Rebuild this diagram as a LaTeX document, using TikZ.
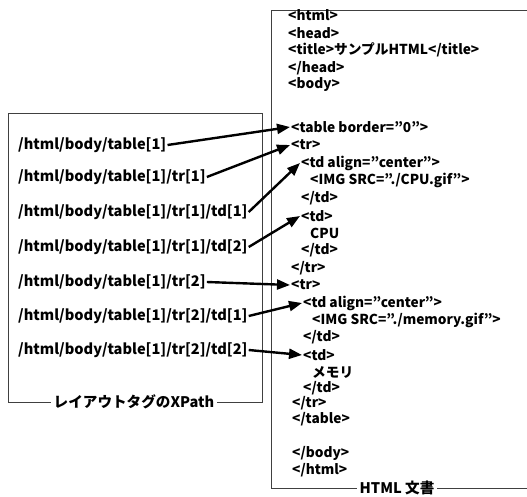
\documentclass[tikz,border=0pt]{standalone}
\usepackage{fontspec}
\setmainfont{Noto Sans CJK JP}
\usetikzlibrary{arrows.meta,positioning}

\begin{document}
\begin{tikzpicture}[
  x=1pt, y=-1pt,
  xp/.style={anchor=west, inner sep=1pt, font=\bfseries\fontsize{14.6}{16}\selectfont},
  code/.style={anchor=west, inner sep=1pt, font=\bfseries\fontsize{13.7}{15}\selectfont},
  frame/.style={draw=black!75, line width=0.6pt},
  caption/.style={fill=white, inner sep=3pt, font=\bfseries\fontsize{14.6}{16}\selectfont},
  arr/.style={-{Triangle[length=13pt,width=10pt]}, line width=2.4pt}
]
\useasboundingbox (0,0) rectangle (527,497);

% Left: layout tag XPaths
\draw[frame] (8,113) rectangle (262,402);
\node[caption] (lcap) at (134,402) {レイアウトタグのXPath};
\node[xp] (xp1) at (17,145) {/html/body/table[1]};
\node[xp] (xp2) at (17,177) {/html/body/table[1]/tr[1]};
\node[xp] (xp3) at (17,212) {/html/body/table[1]/tr[1]/td[1]};
\node[xp] (xp4) at (17,247) {/html/body/table[1]/tr[1]/td[2]};
\node[xp] (xp5) at (17,282) {/html/body/table[1]/tr[2]};
\node[xp] (xp6) at (17,316) {/html/body/table[1]/tr[2]/td[1]};
\node[xp] (xp7) at (17,350) {/html/body/table[1]/tr[2]/td[2]};

% Right: HTML document
\draw[frame] (527,10) -- (271,10) -- (271,488) -- (527,488);
\node[caption] (rcap) at (397,488) {HTML 文書};
\node[code] (h1) at (287,15) {<html>};
\node[code] (h2) at (287,33) {<head>};
\node[code] (h3) at (287,50) {<title>サンプルHTML</title>};
\node[code] (h4) at (287,68) {</head>};
\node[code] (h5) at (287,85) {<body>};
\node[code] (table1) at (290,127) {<table border=”0”>};
\node[code] (tr1) at (290,145) {<tr>};
\node[code] (td1) at (300,163) {<td align=”center”>};
\node[code] (h9) at (309,180) {<IMG SRC=”./CPU.gif”>};
\node[code] (h10) at (300,198) {</td>};
\node[code] (td2) at (300,216) {<td>};
\node[code] (h12) at (309,233) {CPU};
\node[code] (h13) at (300,250) {</td>};
\node[code] (h14) at (290,268) {</tr>};
\node[code] (tr2) at (290,285) {<tr>};
\node[code] (td3) at (302,303) {<td align=”center”>};
\node[code] (h17) at (311,320) {<IMG SRC=”./memory.gif”>};
\node[code] (h18) at (302,337) {</td>};
\node[code] (td4) at (302,355) {<td>};
\node[code] (h20) at (311,372) {メモリ};
\node[code] (h21) at (302,388) {</td>};
\node[code] (h22) at (291,403) {</tr>};
\node[code] (h23) at (291,419) {</table>};
\node[code] (h24) at (291,453) {</body>};
\node[code] (h25) at (291,470) {</html>};

% Arrows
\draw[arr] (xp1.east) -- (table1.west);
\draw[arr] (xp2.east) -- (tr1.west);
\draw[arr] (xp3.east) -- (td1.west);
\draw[arr] (xp4.east) -- (td2.west);
\draw[arr] (xp5.east) -- (tr2.west);
\draw[arr] (xp6.east) -- (td3.west);
\draw[arr] (xp7.east) -- (td4.west);

\end{tikzpicture}
\end{document}
